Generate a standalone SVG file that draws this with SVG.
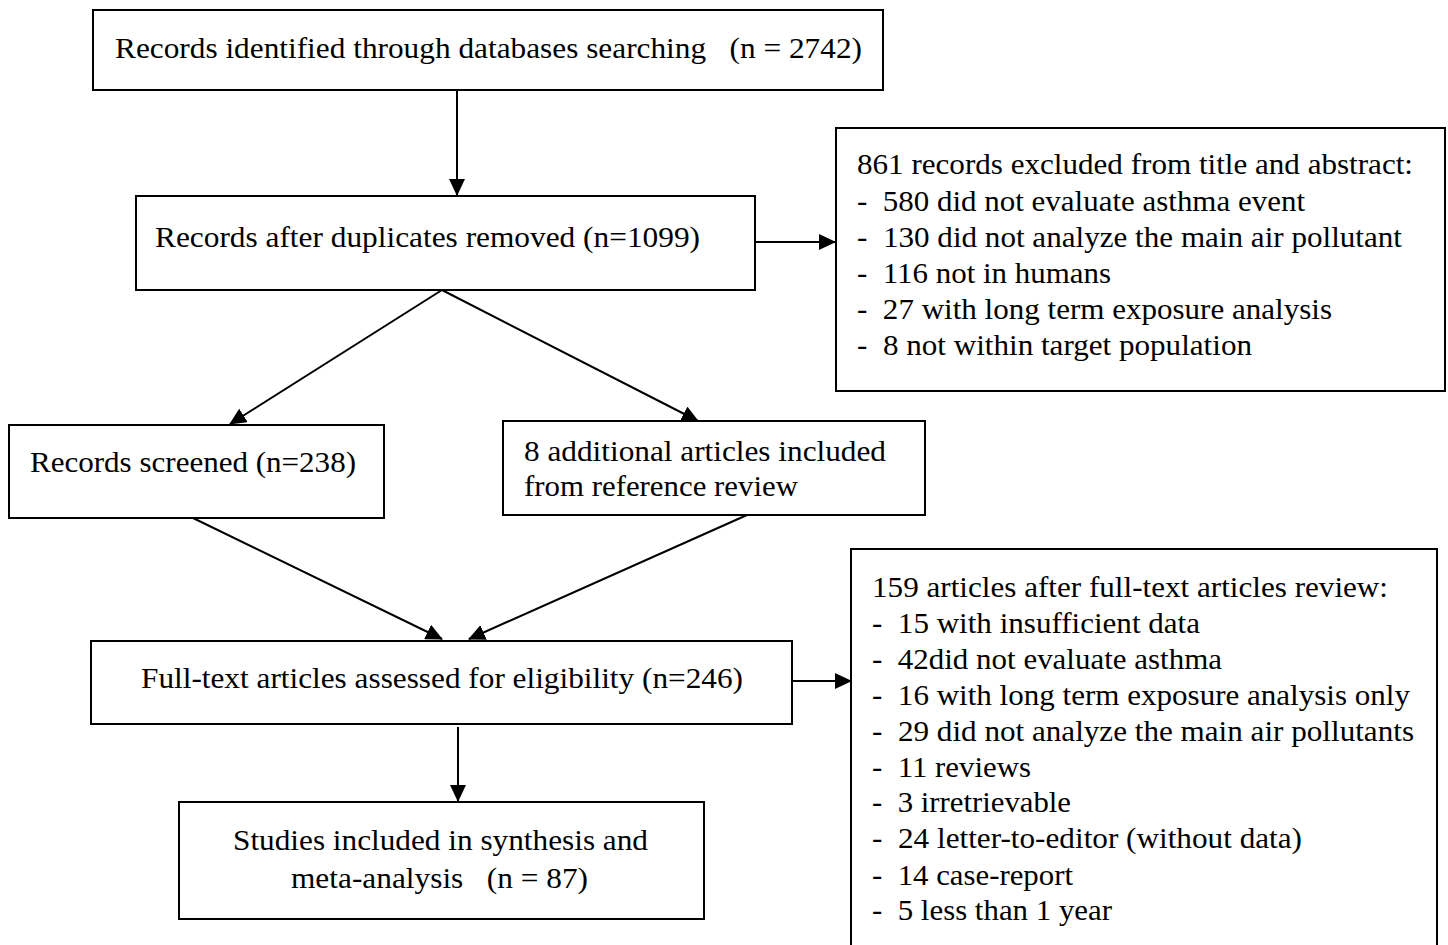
<svg xmlns="http://www.w3.org/2000/svg" width="1448" height="945" viewBox="0 0 1448 945">
<style>
rect.box{fill:#fff;stroke:#000;stroke-width:2}
text{font-family:"Liberation Serif","Times New Roman",serif;font-size:29px;fill:#000;white-space:pre}
.conn line{stroke:#000;stroke-width:2}
</style>
<defs>
<marker id="ah" markerUnits="userSpaceOnUse" markerWidth="18" markerHeight="16" refX="16" refY="8" orient="auto">
<path d="M0,0 L17,8 L0,16 Z" fill="#000"/>
</marker>
</defs>
<rect width="1448" height="945" fill="#fff"/>
<g id="identified">
<rect class="box" x="93" y="10" width="790" height="80"/>
<text x="115" y="58" textLength="747" lengthAdjust="spacingAndGlyphs">Records identified through databases searching   (n = 2742)</text>
</g>
<g id="duplicates">
<rect class="box" x="136" y="196" width="619" height="94"/>
<text x="155" y="247" textLength="545" lengthAdjust="spacingAndGlyphs">Records after duplicates removed (n=1099)</text>
</g>
<g id="excluded1">
<rect class="box" x="836" y="128" width="609" height="263"/>
<text x="857" y="174" textLength="556" lengthAdjust="spacingAndGlyphs">861 records excluded from title and abstract:</text>
<text x="857" y="211" textLength="448" lengthAdjust="spacingAndGlyphs">-  580 did not evaluate asthma event</text>
<text x="857" y="247" textLength="545" lengthAdjust="spacingAndGlyphs">-  130 did not analyze the main air pollutant</text>
<text x="857" y="283" textLength="254" lengthAdjust="spacingAndGlyphs">-  116 not in humans</text>
<text x="857" y="319" textLength="475" lengthAdjust="spacingAndGlyphs">-  27 with long term exposure analysis</text>
<text x="857" y="355" textLength="395" lengthAdjust="spacingAndGlyphs">-  8 not within target population</text>
</g>
<g id="screened">
<rect class="box" x="9" y="425" width="375" height="93"/>
<text x="30" y="472" textLength="326" lengthAdjust="spacingAndGlyphs">Records screened (n=238)</text>
</g>
<g id="additional">
<rect class="box" x="503" y="421" width="422" height="94"/>
<text x="524" y="461" textLength="362" lengthAdjust="spacingAndGlyphs">8 additional articles included</text>
<text x="524" y="496" textLength="274" lengthAdjust="spacingAndGlyphs">from reference review</text>
</g>
<g id="fulltext">
<rect class="box" x="91" y="641" width="701" height="83"/>
<text x="141" y="688" textLength="602" lengthAdjust="spacingAndGlyphs">Full-text articles assessed for eligibility (n=246)</text>
</g>
<g id="included">
<rect class="box" x="179" y="802" width="525" height="117"/>
<text x="233" y="850" textLength="415" lengthAdjust="spacingAndGlyphs">Studies included in synthesis and</text>
<text x="291" y="888" textLength="297" lengthAdjust="spacingAndGlyphs">meta-analysis   (n = 87)</text>
</g>
<g id="excluded2">
<rect class="box" x="851" y="549" width="586" height="420"/>
<text x="872" y="597" textLength="516" lengthAdjust="spacingAndGlyphs">159 articles after full-text articles review:</text>
<text x="872" y="633" textLength="328" lengthAdjust="spacingAndGlyphs">-  15 with insufficient data</text>
<text x="872" y="669" textLength="350" lengthAdjust="spacingAndGlyphs">-  42did not evaluate asthma</text>
<text x="872" y="705" textLength="538" lengthAdjust="spacingAndGlyphs">-  16 with long term exposure analysis only</text>
<text x="872" y="741" textLength="542" lengthAdjust="spacingAndGlyphs">-  29 did not analyze the main air pollutants</text>
<text x="872" y="777" textLength="159" lengthAdjust="spacingAndGlyphs">-  11 reviews</text>
<text x="872" y="812" textLength="199" lengthAdjust="spacingAndGlyphs">-  3 irretrievable</text>
<text x="872" y="848" textLength="430" lengthAdjust="spacingAndGlyphs">-  24 letter-to-editor (without data)</text>
<text x="872" y="885" textLength="201" lengthAdjust="spacingAndGlyphs">-  14 case-report</text>
<text x="872" y="920" textLength="240" lengthAdjust="spacingAndGlyphs">-  5 less than 1 year</text>
</g>
<g class="conn" id="connectors">
<line x1="457" y1="90" x2="457" y2="195" marker-end="url(#ah)"/>
<line x1="755" y1="242" x2="835" y2="242" marker-end="url(#ah)"/>
<line x1="442" y1="290" x2="230" y2="424" marker-end="url(#ah)"/>
<line x1="442" y1="290" x2="698" y2="421" marker-end="url(#ah)"/>
<line x1="193" y1="518" x2="442" y2="639" marker-end="url(#ah)"/>
<line x1="747" y1="515" x2="469" y2="639" marker-end="url(#ah)"/>
<line x1="792" y1="681" x2="851" y2="681" marker-end="url(#ah)"/>
<line x1="458" y1="727" x2="458" y2="801" marker-end="url(#ah)"/>
</g>
</svg>
